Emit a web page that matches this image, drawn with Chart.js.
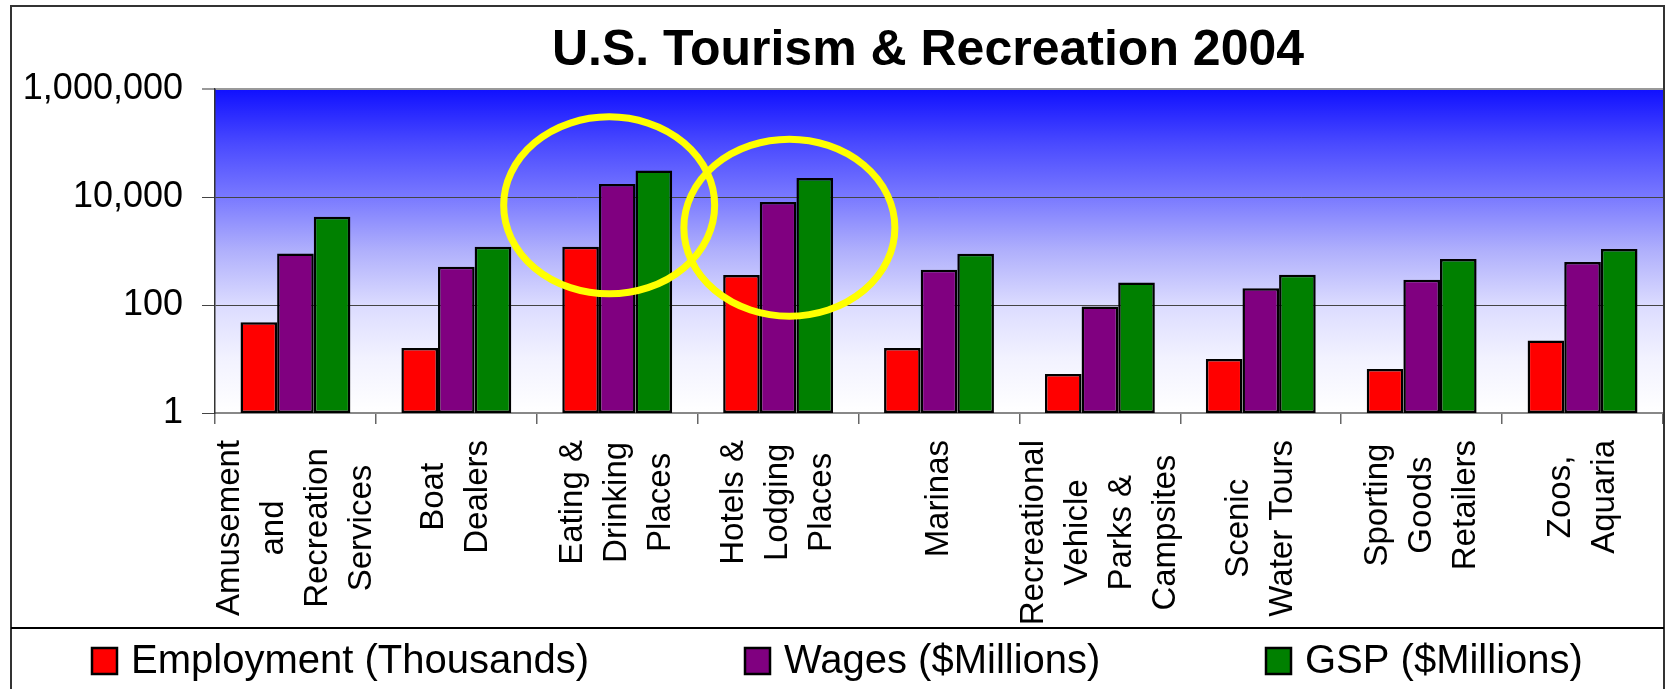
<!DOCTYPE html>
<html>
<head>
<meta charset="utf-8">
<script src="https://cdn.jsdelivr.net/npm/chart.js@4.4.1/dist/chart.umd.min.js"></script>
<style>
  html, body { margin: 0; padding: 0; background: #fff; }
  #wrap { width: 1666px; height: 689px; position: relative; }
</style>
</head>
<body>
<div id="wrap"><canvas id="chart"></canvas></div>
<script>
// Categorías (una línea por renglón de la etiqueta girada)
const categories = [
    ['Amusement', 'and', 'Recreation', 'Services'],
    ['Boat', 'Dealers'],
    ['Eating &', 'Drinking', 'Places'],
    ['Hotels &', 'Lodging', 'Places'],
    ['Marinas'],
    ['Recreational', 'Vehicle', 'Parks &', 'Campsites'],
    ['Scenic', 'Water Tours'],
    ['Sporting', 'Goods', 'Retailers'],
    ['Zoos,', 'Aquaria'],
];

const employment = [48, 16, 1200, 360, 16, 5.3, 10, 6.5, 22];
const wages = [900, 510, 17500, 8100, 450, 94, 205, 295, 625];
const gsp = [4300, 1200, 31000, 22500, 890, 260, 365, 710, 1090];

const yTicks = [1, 100, 10000, 1000000];

// Círculos amarillos: categoría, valor y desplazamiento
const highlights = [
    { cat: 2, value: 7000, shift: -0.05 },
    { cat: 3, value: 2700, shift: 0.07 },
];

const FONT = "'Liberation Sans', Arial, sans-serif";

const decor = {
    id: 'decor',
    beforeDraw(chart) {
        const { ctx, chartArea: a } = chart;
        ctx.save();
        ctx.fillStyle = '#fff';
        ctx.fillRect(0, 0, chart.width, chart.height);
        const g = ctx.createLinearGradient(0, a.top, 0, a.bottom);
        g.addColorStop(0, '#1010ff');
        g.addColorStop(0.17, '#4a4aff');
        g.addColorStop(0.33, '#7878ff');
        g.addColorStop(0.5, '#b0b0fc');
        g.addColorStop(0.67, '#dcdcff');
        g.addColorStop(0.83, '#f2f2ff');
        g.addColorStop(1, '#ffffff');
        ctx.fillStyle = g;
        ctx.fillRect(a.left, a.top, a.right - a.left, a.bottom - a.top);
        ctx.restore();
    },
    afterDatasetsDraw(chart) {
        const { ctx } = chart;
        const x = chart.scales.x, y = chart.scales.y;
        const w = x.getPixelForValue(1) - x.getPixelForValue(0);
        ctx.save();
        ctx.strokeStyle = '#ffff00';
        ctx.lineWidth = 7;
        highlights.forEach(h => {
            const cx = x.getPixelForValue(h.cat) + h.shift * w;
            const cy = y.getPixelForValue(h.value);
            ctx.beginPath();
            ctx.ellipse(cx, cy, 105.5, 88.5, 0, 0, Math.PI * 2);
            ctx.stroke();
        });
        ctx.restore();
    },
    afterDraw(chart) {
        const { ctx, chartArea: a } = chart;
        const x = chart.scales.x;
        ctx.save();

        // Título
        ctx.fillStyle = '#000';
        ctx.font = `bold 50px ${FONT}`;
        ctx.textAlign = 'center';
        ctx.textBaseline = 'alphabetic';
        ctx.fillText('U.S. Tourism & Recreation 2004', 928, 65);

        // Etiquetas del eje X, giradas
        ctx.font = `33px ${FONT}`;
        ctx.textBaseline = 'middle';
        categories.forEach((lines, i) => {
            const cx = x.getPixelForValue(i);
            const maxW = Math.max(...lines.map(l => ctx.measureText(l).width));
            lines.forEach((line, j) => {
                ctx.save();
                ctx.translate(cx + (j - (lines.length - 1) / 2) * 44, 440 + maxW / 2);
                ctx.rotate(-Math.PI / 2);
                ctx.fillText(line, 0, 0);
                ctx.restore();
            });
        });

        // Marco exterior y separador de leyenda
        ctx.strokeStyle = '#333';
        ctx.lineWidth = 2;
        ctx.strokeRect(11, 6, a.right + 1 - 11, 720);
        ctx.strokeStyle = '#000';
        ctx.beginPath();
        ctx.moveTo(11, 628);
        ctx.lineTo(a.right + 1, 628);
        ctx.stroke();

        // Leyenda
        const boxX = [92, 745, 1266];
        ctx.font = `40px ${FONT}`;
        ctx.textAlign = 'left';
        ctx.textBaseline = 'alphabetic';
        chart.data.datasets.forEach((ds, i) => {
            ctx.fillStyle = ds.backgroundColor;
            ctx.fillRect(boxX[i], 648, 25, 26);
            ctx.lineWidth = 2.5;
            ctx.strokeStyle = '#000';
            ctx.strokeRect(boxX[i], 648, 25, 26);
            ctx.fillStyle = '#000';
            ctx.fillText(ds.label, boxX[i] + 39, 673);
        });
        ctx.restore();
    },
};

const barStyle = { borderColor: '#000', borderWidth: 2.5, borderSkipped: false,
    categoryPercentage: 0.683, barPercentage: 1.0 };

new Chart(document.getElementById('chart'), {
    type: 'bar',
    data: {
        labels: categories.map(c => c.join(' ')),
        datasets: [
            { label: 'Employment (Thousands)', data: employment, backgroundColor: '#ff0000', ...barStyle },
            { label: 'Wages ($Millions)', data: wages, backgroundColor: '#800080', ...barStyle },
            { label: 'GSP ($Millions)', data: gsp, backgroundColor: '#008000', ...barStyle },
        ],
    },
    options: {
        responsive: true,
        maintainAspectRatio: false,
        animation: false,
        layout: { padding: { left: 0, top: 89, right: 3, bottom: 0 } },
        plugins: {
            legend: { display: false },
            title: { display: false },
            tooltip: { enabled: false },
        },
        scales: {
            x: {
                ticks: { display: false },
                grid: { offset: true, drawOnChartArea: false, drawTicks: true,
                        tickLength: 11, color: '#666', lineWidth: 1.5 },
                border: { color: '#888', width: 2 },
                afterFit: s => { s.height = 276; },
            },
            y: {
                type: 'logarithmic',
                min: 1,
                max: 1000000,
                afterBuildTicks: s => { s.ticks = yTicks.map(v => ({ value: v })); },
                ticks: {
                    padding: 19,
                    color: '#000',
                    font: { family: FONT, size: 36 },
                    callback: v => Number(v).toLocaleString('en-US'),
                },
                grid: {
                    tickLength: 13,
                    color: c => c.tick && c.tick.value === 1000000 ? '#999' : '#444',
                    lineWidth: c => c.tick && c.tick.value === 1000000 ? 2 : 1,
                },
                border: { color: '#333', width: 1.5 },
                afterFit: s => { s.width = 215; },
            },
        },
    },
    plugins: [decor],
});
</script>
</body>
</html>
